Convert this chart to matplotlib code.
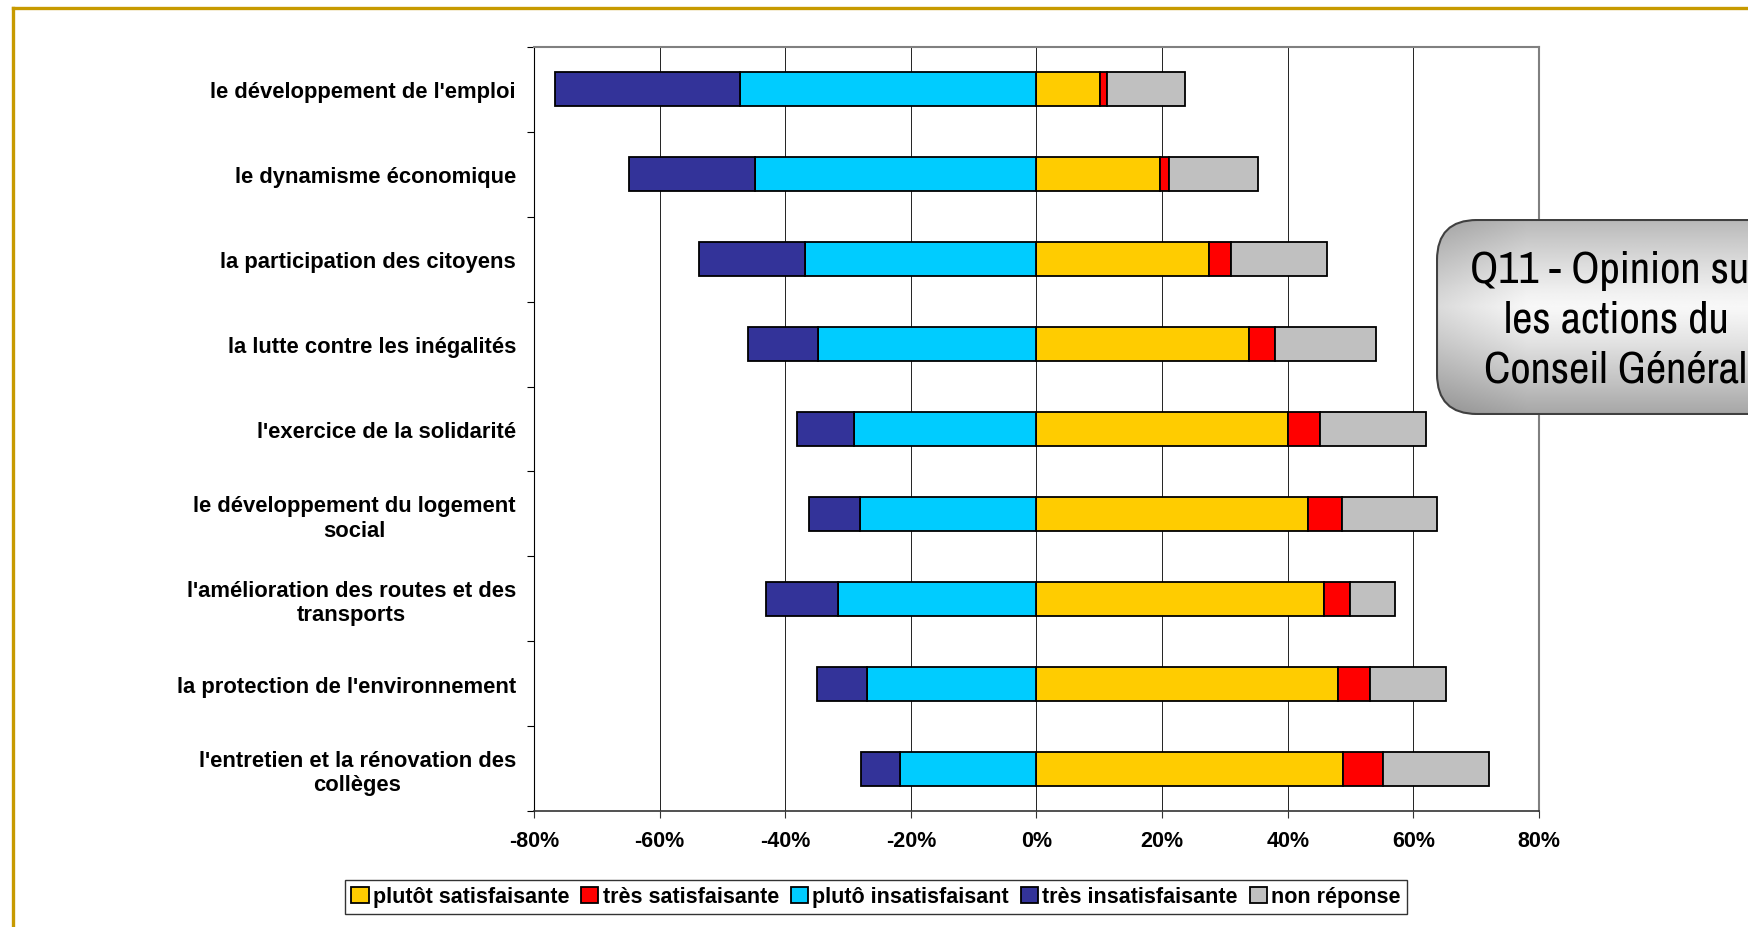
import matplotlib
matplotlib.use("Agg")
import matplotlib.pyplot as plt
from matplotlib import font_manager
from matplotlib.patches import FancyBboxPatch
from matplotlib.lines import Line2D
import numpy as np

# ---------------- data ----------------
categories = [
    "le développement de l'emploi",
    "le dynamisme économique",
    "la participation des citoyens",
    "la lutte contre les inégalités",
    "l'exercice de la solidarité",
    "le développement du logement\nsocial",
    "l'amélioration des routes et des\ntransports",
    "la protection de l'environnement",
    "l'entretien et la rénovation des\ncollèges",
]
plutot_satisfaisante = [10.1, 19.7, 27.5, 33.9, 40.0, 43.2, 45.8, 48.0, 48.8]
tres_satisfaisante = [1.1, 1.4, 3.4, 4.1, 5.1, 5.5, 4.1, 5.1, 6.4]
pluto_insatisfaisant = [47.2, 44.8, 36.8, 34.8, 29.0, 28.1, 31.6, 27.0, 21.8]
tres_insatisfaisante = [29.4, 20.0, 17.0, 11.2, 9.2, 8.1, 11.4, 8.0, 6.1]
non_reponse = [12.4, 14.2, 15.3, 16.0, 16.9, 15.1, 7.1, 12.1, 16.9]

series_names = ["plutôt satisfaisante", "très satisfaisante", "plutô insatisfaisant",
                "très insatisfaisante", "non réponse"]
xticks = [-80, -60, -40, -20, 0, 20, 40, 60, 80]
title_text = "Q11 - Opinion sur\nles actions du\nConseil Général"

# ---------------- style ----------------
colors = {
    "plutôt satisfaisante": "#FFCC00",
    "très satisfaisante": "#FF0000",
    "plutô insatisfaisant": "#00CCFF",
    "très insatisfaisante": "#333399",
    "non réponse": "#C0C0C0",
}
installed = {f.name for f in font_manager.fontManager.ttflist}
narrow = "DejaVu Sans"
for cand in ["Liberation Sans Narrow", "Archivo Narrow", "PT Sans Narrow", "Roboto Condensed",
             "IBM Plex Sans Condensed", "Open Sans Condensed"]:
    if cand in installed:
        narrow = cand
        break
plt.rcParams["font.family"] = ["Liberation Sans", "DejaVu Sans"]

W, H = 1749, 928
fig = plt.figure(figsize=(W / 100, H / 100), dpi=100)
fig.patch.set_facecolor("white")

ax = fig.add_axes([534 / W, 1 - 812 / H, (1539 - 534) / W, (812 - 48) / H])

n = len(categories)
y = np.arange(n)
bh = 0.4
ekw = dict(edgecolor="black", linewidth=1.3, zorder=3)

ps = np.array(plutot_satisfaisante)
ts = np.array(tres_satisfaisante)
pi = np.array(pluto_insatisfaisant)
ti = np.array(tres_insatisfaisante)
nr = np.array(non_reponse)

h1 = ax.barh(y, ps, left=0, height=bh, color=colors[series_names[0]], label=series_names[0], **ekw)
h2 = ax.barh(y, ts, left=ps, height=bh, color=colors[series_names[1]], label=series_names[1], **ekw)
h3 = ax.barh(y, -pi, left=0, height=bh, color=colors[series_names[2]], label=series_names[2], **ekw)
h4 = ax.barh(y, -ti, left=-pi, height=bh, color=colors[series_names[3]], label=series_names[3], **ekw)
h5 = ax.barh(y, nr, left=ps + ts, height=bh, color=colors[series_names[4]], label=series_names[4], **ekw)

ax.set_xlim(-80, 80)
ax.set_ylim(n - 0.5, -0.5)

ax.set_xticks(xticks)
ax.set_xticklabels([f"{v}%" for v in xticks], fontsize=15.5, fontweight="bold")
ax.set_yticks(y)
ax.set_yticklabels(categories, fontsize=15.8, fontweight="bold")
for lab in ax.get_yticklabels():
    lab.set_multialignment("center")
ax.set_yticks(np.arange(n + 1) - 0.5, minor=True)
ax.tick_params(axis="y", which="major", length=0, pad=13)
ax.tick_params(axis="y", which="minor", length=5, width=0.8, direction="out", color="black")
ax.tick_params(axis="x", which="major", length=5, width=0.8, direction="out", pad=9, color="#333333")

ax.xaxis.grid(True, color="#222222", linewidth=0.7, zorder=0)
ax.set_axisbelow(True)
ax.spines["left"].set_color("black")
ax.spines["left"].set_linewidth(0.8)
ax.spines["bottom"].set_color("#333333")
ax.spines["bottom"].set_linewidth(1.2)
ax.spines["top"].set_color("#808080")
ax.spines["top"].set_linewidth(1.5)
ax.spines["right"].set_color("#808080")
ax.spines["right"].set_linewidth(1.5)

leg = fig.legend(handles=[h1, h2, h3, h4, h5], labels=series_names, loc="center",
                 bbox_to_anchor=(876 / W, 1 - 898 / H), ncol=5, frameon=True,
                 fancybox=False, shadow=False, handlelength=0.8, handleheight=0.8,
                 handletextpad=0.2, columnspacing=0.55, borderpad=0.3,
                 prop={"size": 15.5, "weight": "bold"})
leg.get_frame().set_edgecolor("black")
leg.get_frame().set_linewidth(1.0)

# gold border on left and top
gold = "#C79A00"
fig.add_artist(Line2D([13.5 / W, 13.5 / W], [-0.01, 1 - 8.5 / H], transform=fig.transFigure,
                      color=gold, linewidth=2.4, solid_capstyle="projecting"))
fig.add_artist(Line2D([13.5 / W, 1.01], [1 - 8.5 / H, 1 - 8.5 / H], transform=fig.transFigure,
                      color=gold, linewidth=2.4, solid_capstyle="projecting"))

# title box (rounded with gradient)
bx0, bx1, by0, by1 = 1436, 1800, 220, 416
bw, bhh = bx1 - bx0, by1 - by0
tax = fig.add_axes([bx0 / W, 1 - by1 / H, bw / W, bhh / H])
tax.set_xlim(0, bw)
tax.set_ylim(0, bhh)
tax.axis("off")
box = FancyBboxPatch((1, 1), bw + 40, bhh - 2, boxstyle="round,pad=0,rounding_size=40",
                     facecolor="none", edgecolor="#404040", linewidth=1.5, zorder=3)
tax.add_patch(box)
yy = np.linspace(0, 1, 200)[:, None]
xx = np.linspace(0, 1, 300)[None, :]
vert = 0.97 - 0.30 * np.abs(yy - 0.55) ** 1.2 * 2.2
horiz = 1.0 - 0.12 * np.clip(0.25 - xx, 0, None) / 0.25
grad = np.clip(vert * horiz, 0, 1)
img = tax.imshow(grad, extent=(0, bw, 0, bhh), origin="lower", cmap="gray",
                 vmin=0, vmax=1, aspect="auto", zorder=1)
img.set_clip_path(box)
tax.text(1616 - bx0, by1 - 321, title_text, ha="center", va="center",
         fontsize=32, family=narrow, linespacing=1.3, color="black", zorder=4)

fig.savefig("out.png", dpi=100)
